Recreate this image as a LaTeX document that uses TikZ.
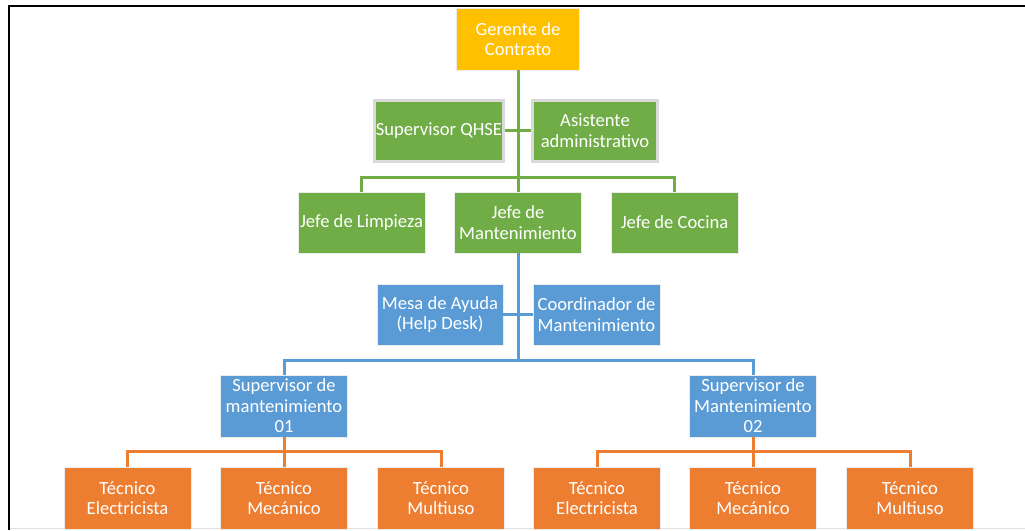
\documentclass[tikz,border=0pt]{standalone}
\usepackage{fontspec}
\setmainfont{Carlito}
\definecolor{cgold}{HTML}{FFC000}
\definecolor{cgreen}{HTML}{70AD47}
\definecolor{cblue}{HTML}{5B9BD5}
\definecolor{corange}{HTML}{ED7D31}
\definecolor{cframe}{HTML}{DADADA}
\begin{document}
\begin{tikzpicture}[x=1pt,y=-1pt,
  box/.style={minimum width=127pt, minimum height=62pt, inner sep=1pt, align=center,
    text=white, font=\fontsize{18.6}{20.5}\selectfont, draw=white!92!black, line width=0.8pt},
  goldbox/.style={box, fill=cgold},
  greenbox/.style={box, fill=cgreen},
  greenframed/.style={box, fill=cgreen, draw=cframe, line width=3pt, minimum width=125pt, minimum height=61pt},
  bluebox/.style={box, fill=cblue},
  orangebox/.style={box, fill=corange},
  gline/.style={draw=cgreen, line width=3pt},
  bline/.style={draw=cblue, line width=3pt},
  oline/.style={draw=corange, line width=3pt}]
\useasboundingbox (0,0) rectangle (1025,530);
% frame
\draw[black, line width=2pt] (9,530) -- (9,6) -- (1025,6);
\draw[black!12, line width=1.5pt] (10,528.5) -- (1025,528.5);

% nodes
\node[goldbox, minimum width=123pt] (ger) at (518,39) {Gerente de\\Contrato};
\node[greenframed] (qhse) at (439,130.5) {Supervisor QHSE};
\node[greenframed] (asis) at (595,130.5) {Asistente\\administrativo};
\node[greenbox, minimum height=61pt] (jl) at (361.5,222.5) {Jefe de Limpieza};
\node[greenbox, minimum height=61pt] (jm) at (518,222.5) {Jefe de\\Mantenimiento};
\node[greenbox, minimum height=61pt] (jc) at (674.5,222.5) {Jefe de Cocina};
\node[bluebox, minimum width=126pt, minimum height=61pt] (mesa) at (440,314.5) {Mesa de Ayuda\\(Help Desk)};
\node[bluebox, minimum width=127pt, minimum height=61pt] (coord) at (596.5,314.5) {Coordinador de\\Mantenimiento};
\node[bluebox] (s1) at (284,406) {Supervisor de\\mantenimiento\\01};
\node[bluebox] (s2) at (753,406) {Supervisor de\\Mantenimiento\\02};
\node[orangebox] (t1) at (127.5,498) {Técnico\\Electricista};
\node[orangebox] (t2) at (284,498) {Técnico\\Mecánico};
\node[orangebox] (t3) at (441,498) {Técnico\\Multiuso};
\node[orangebox] (t4) at (597,498) {Técnico\\Electricista};
\node[orangebox] (t5) at (753,498) {Técnico\\Mecánico};
\node[orangebox] (t6) at (910,498) {Técnico\\Multiuso};

% bar points
\coordinate (gbar) at (518,177);
\coordinate (bbar) at (518,360);
\coordinate (obar1) at (284,451);
\coordinate (obar2) at (753,451);

% connectors
\draw[gline] (ger.south) -- (gbar);
\draw[gline] (qhse.east) -- (asis.west);
\draw[gline] (jl.north) |- (gbar) -| (jc.north);
\draw[gline] (gbar) -- (jm.north);

\draw[bline] (jm.south) -- (bbar);
\draw[bline] (mesa.east) -- (coord.west);
\draw[bline] (s1.north) |- (bbar) -| (s2.north);

\draw[oline] (s1.south) -- (obar1);
\draw[oline] (t1.north) |- (obar1) -| (t3.north);
\draw[oline] (obar1) -- (t2.north);
\draw[oline] (s2.south) -- (obar2);
\draw[oline] (t4.north) |- (obar2) -| (t6.north);
\draw[oline] (obar2) -- (t5.north);
\end{tikzpicture}
\end{document}
